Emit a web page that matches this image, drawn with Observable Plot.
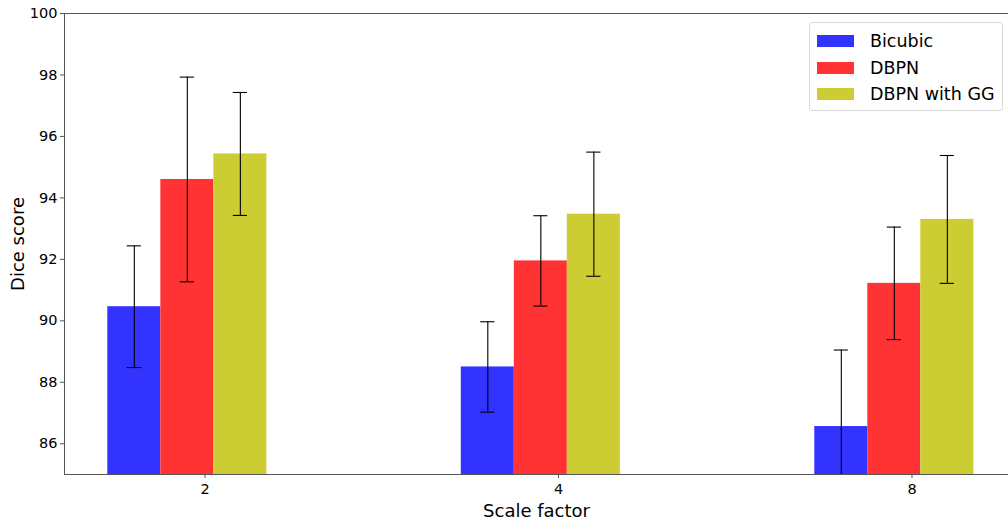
<!DOCTYPE html>
<html>
<head>
<meta charset="utf-8">
<script src="https://cdn.jsdelivr.net/npm/d3@7"></script>
<script src="https://cdn.jsdelivr.net/npm/@observablehq/plot@0.6"></script>
<style>
  html, body { margin: 0; padding: 0; background: #fff; overflow: hidden; }
  #wrap { position: relative; width: 1008px; height: 522px; font-family: "DejaVu Sans", sans-serif; }
  #legend { position: absolute; left: 809px; top: 22px; width: 192px; height: 87px; border: 1px solid #d9d9d9; border-radius: 3px; background: rgba(255,255,255,0.8); }
  .row { position: absolute; left: 7px; height: 20px; display: flex; align-items: center; font-size: 17.5px; color: #000; }
  .sw { width: 37px; height: 12px; margin-right: 16px; }
</style>
</head>
<body>
<div id="wrap"></div>
<script>
const categories = ["2", "4", "8"];
const series = ["Bicubic", "DBPN", "DBPN with GG"];
const colors = ["#3333ff", "#ff3333", "#cccc33"];
const bicubic = [90.46, 88.50, 86.56];
const bicubicErr = [1.98, 1.47, 2.49];
const dbpn = [94.60, 91.95, 91.22];
const dbpnErr = [3.33, 1.47, 1.83];
const dbpnGG = [95.43, 93.47, 93.30];
const dbpnGGErr = [2.00, 2.02, 2.08];
const yTicks = [86, 88, 90, 92, 94, 96, 98, 100];

const means = [bicubic, dbpn, dbpnGG];
const errs = [bicubicErr, dbpnErr, dbpnGGErr];
const barW = 0.15;
const rows = [];
series.forEach((s, si) => {
  categories.forEach((c, ci) => {
    const pos = ci + si * barW;
    rows.push({series: s, cat: c, pos, v: means[si][ci], e: errs[si][ci], color: colors[si]});
  });
});
const tickPos = categories.map((c, i) => i + 0.2);

const plot = Plot.plot({
  width: 1008,
  height: 522,
  marginLeft: 64,
  marginRight: 0,
  marginTop: 13,
  marginBottom: 48,
  style: {fontFamily: "DejaVu Sans, sans-serif", background: "transparent"},
  x: {type: "linear", domain: [-0.1975, 2.473], axis: null},
  y: {domain: [85, 100], axis: null},
  marks: [
    Plot.rectY(rows, {x1: d => d.pos - barW / 2, x2: d => d.pos + barW / 2, y1: 85, y2: "v", fill: "color", clip: true}),
    Plot.ruleX(rows, {x: "pos", y1: d => d.v - d.e, y2: d => d.v + d.e, stroke: "#000", strokeWidth: 1.1, clip: true}),
    Plot.ruleY(rows, {y: d => d.v + d.e, x1: d => d.pos - 0.02, x2: d => d.pos + 0.02, stroke: "#000", strokeWidth: 1.1, clip: true}),
    Plot.ruleY(rows, {y: d => d.v - d.e, x1: d => d.pos - 0.02, x2: d => d.pos + 0.02, stroke: "#000", strokeWidth: 1.1, clip: true}),
    Plot.frame({anchor: "top", stroke: "#555"}),
    Plot.frame({anchor: "bottom", stroke: "#555"}),
    Plot.frame({anchor: "left", stroke: "#555"}),
    Plot.axisY({ticks: yTicks, tickSize: 4, tickPadding: 3, fontSize: 14.5, stroke: "#555", color: "#000", label: null}),
    Plot.axisX({ticks: tickPos, tickFormat: (d, i) => categories[i], tickSize: 4, tickPadding: 5, fontSize: 14.5, stroke: "#555", color: "#000", label: null}),
    Plot.text(["Dice score"], {frameAnchor: "left", textAnchor: "middle", dx: -46, rotate: -90, fontSize: 18, fill: "#000"}),
    Plot.text(["Scale factor"], {frameAnchor: "bottom", textAnchor: "middle", dy: 42, fontSize: 18, fill: "#000"})
  ]
});
const wrap = document.getElementById("wrap");
wrap.appendChild(plot);

const legend = document.createElement("div");
legend.id = "legend";
series.forEach((s, i) => {
  const r = document.createElement("div");
  r.className = "row";
  r.style.top = (8 + i * 26.7) + "px";
  r.innerHTML = `<div class="sw" style="background:${colors[i]}"></div><span>${s}</span>`;
  legend.appendChild(r);
});
wrap.appendChild(legend);
</script>
</body>
</html>
